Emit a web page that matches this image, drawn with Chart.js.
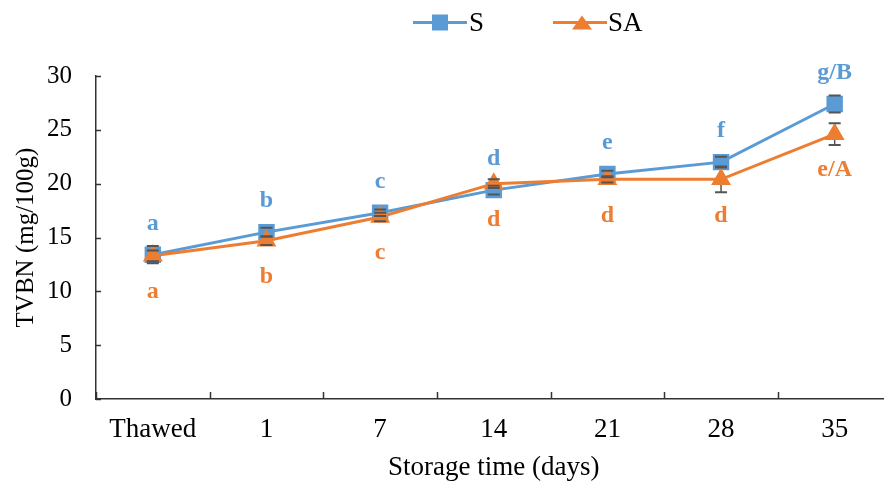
<!DOCTYPE html>
<html>
<head>
<meta charset="utf-8">
<script src="https://cdn.jsdelivr.net/npm/chart.js@4.4.1/dist/chart.umd.min.js"></script>
<style>
  html, body { margin: 0; padding: 0; background: #fff; overflow: hidden; }
  canvas { display: block; }
</style>
</head>
<body>
<canvas id="tvbnChart" width="904" height="481"></canvas>
<script>
// data
const categories = ['Thawed', '1', '7', '14', '21', '28', '35'];
const sValues = [13.4, 15.5, 17.3, 19.4, 20.9, 22.0, 27.4];
const sErrors = [0.8, 0.4, 0.3, 0.4, 0.3, 0.5, 0.8];
const sLetters = ['a', 'b', 'c', 'd', 'e', 'f', 'g/B'];
const saValues = [13.3, 14.7, 16.9, 20.0, 20.4, 20.4, 24.6];
const saErrors = [0.5, 0.4, 0.4, 0.4, 0.3, 1.2, 1.0];
const saLetters = ['a', 'b', 'c', 'd', 'd', 'd', 'e/A'];
const yTicks = [0, 5, 10, 15, 20, 25, 30];

const BLUE = '#5B9BD5';
const ORANGE = '#ED7D31';
const ERR = '#555';
const SERIF = '"Liberation Serif", "Times New Roman", serif';

function eachErr(chart, fn) {
  const x = chart.scales.x, y = chart.scales.y;
  [[sValues, sErrors], [saValues, saErrors]].forEach(([vals, errs]) => {
    vals.forEach((v, i) => {
      fn(x.getPixelForValue(i), y.getPixelForValue(v + errs[i]), y.getPixelForValue(v - errs[i]));
    });
  });
}

// error bars, letters, inward ticks and legend
const extras = {
  id: 'extras',
  beforeDatasetsDraw(chart) {
    // error bar stems go under the markers
    const ctx = chart.ctx;
    ctx.save();
    ctx.strokeStyle = ERR;
    ctx.lineWidth = 1.5;
    eachErr(chart, (px, top, bot) => {
      ctx.beginPath();
      ctx.moveTo(px, top); ctx.lineTo(px, bot);
      ctx.stroke();
    });
    ctx.restore();
  },
  afterDatasetsDraw(chart) {
    const ctx = chart.ctx;
    const x = chart.scales.x, y = chart.scales.y;
    const area = chart.chartArea;

    ctx.save();
    // inward tick marks
    ctx.strokeStyle = '#333';
    ctx.lineWidth = 1.5;
    yTicks.forEach(v => {
      const py = Math.round(y.getPixelForValue(v)) + 0.5;
      ctx.beginPath();
      ctx.moveTo(area.left, py);
      ctx.lineTo(area.left + 5, py);
      ctx.stroke();
    });
    const step = (area.right - area.left) / categories.length;
    for (let i = 0; i <= categories.length; i++) {
      const px = Math.round(area.left + i * step) + 0.5;
      ctx.beginPath();
      ctx.moveTo(px, area.bottom);
      ctx.lineTo(px, area.bottom - 7);
      ctx.stroke();
    }

    // error bar caps
    ctx.strokeStyle = ERR;
    ctx.lineWidth = 2;
    eachErr(chart, (px, top, bot) => {
      ctx.beginPath();
      ctx.moveTo(px - 6, top); ctx.lineTo(px + 6, top);
      ctx.moveTo(px - 6, bot); ctx.lineTo(px + 6, bot);
      ctx.stroke();
    });

    // significance letters
    ctx.font = 'bold 24px ' + SERIF;
    ctx.textAlign = 'center';
    ctx.textBaseline = 'middle';
    ctx.fillStyle = BLUE;
    sLetters.forEach((t, i) => {
      ctx.fillText(t, x.getPixelForValue(i), y.getPixelForValue(sValues[i]) - 31);
    });
    ctx.fillStyle = ORANGE;
    saLetters.forEach((t, i) => {
      ctx.fillText(t, x.getPixelForValue(i), y.getPixelForValue(saValues[i]) + 36);
    });

    // legend
    const ly = 22.5;
    ctx.lineWidth = 3;
    ctx.strokeStyle = BLUE;
    ctx.beginPath(); ctx.moveTo(413, ly); ctx.lineTo(467, ly); ctx.stroke();
    ctx.fillStyle = BLUE;
    ctx.fillRect(432, ly - 8, 16, 16);
    ctx.strokeStyle = ORANGE;
    ctx.beginPath(); ctx.moveTo(553, ly); ctx.lineTo(607, ly); ctx.stroke();
    ctx.fillStyle = ORANGE;
    ctx.beginPath();
    ctx.moveTo(582, ly - 7); ctx.lineTo(592, ly + 7); ctx.lineTo(572, ly + 7);
    ctx.closePath(); ctx.fill();
    ctx.fillStyle = '#000';
    ctx.font = '27px ' + SERIF;
    ctx.textAlign = 'left';
    ctx.fillText('S', 469, ly + 1);
    ctx.fillText('SA', 608, ly + 1);
    ctx.restore();
  }
};

new Chart(document.getElementById('tvbnChart'), {
  type: 'line',
  data: {
    labels: categories,
    datasets: [
      {
        label: 'S',
        data: sValues,
        borderColor: BLUE,
        backgroundColor: BLUE,
        borderWidth: 3,
        pointStyle: 'rect',
        pointRadius: 9.5,
        pointHoverRadius: 9.5,
        tension: 0,
        order: 1
      },
      {
        label: 'SA',
        data: saValues,
        borderColor: ORANGE,
        backgroundColor: ORANGE,
        borderWidth: 3,
        pointStyle: 'triangle',
        pointRadius: 8.5,
        pointHoverRadius: 8.5,
        tension: 0,
        order: 0
      }
    ]
  },
  options: {
    responsive: false,
    animation: false,
    layout: { padding: { top: 76, right: 2, left: 0, bottom: 0 } },
    plugins: {
      legend: { display: false },
      tooltip: { enabled: false }
    },
    scales: {
      x: {
        offset: true,
        grid: { display: false, drawTicks: false },
        border: { display: true, color: '#333', width: 1.5 },
        ticks: { color: '#000', font: { family: SERIF, size: 27 }, padding: 15, maxRotation: 0 },
        title: {
          display: true,
          text: 'Storage time (days)',
          color: '#000',
          font: { family: SERIF, size: 27, lineHeight: 1 },
          padding: { top: 0, bottom: 0 }
        },
        afterFit: s => { s.height = 82; }
      },
      y: {
        min: 0,
        max: 30,
        grid: { display: false, drawTicks: false },
        border: { display: true, color: '#333', width: 1.5 },
        ticks: { stepSize: 5, color: '#000', font: { family: SERIF, size: 25 }, padding: 24 },
        title: {
          display: true,
          text: 'TVBN (mg/100g)',
          color: '#000',
          font: { family: SERIF, size: 25, lineHeight: 1.2 },
          padding: { top: 11, bottom: 0 }
        },
        afterFit: s => { s.width = 96; }
      }
    }
  },
  plugins: [extras]
});
</script>
</body>
</html>
